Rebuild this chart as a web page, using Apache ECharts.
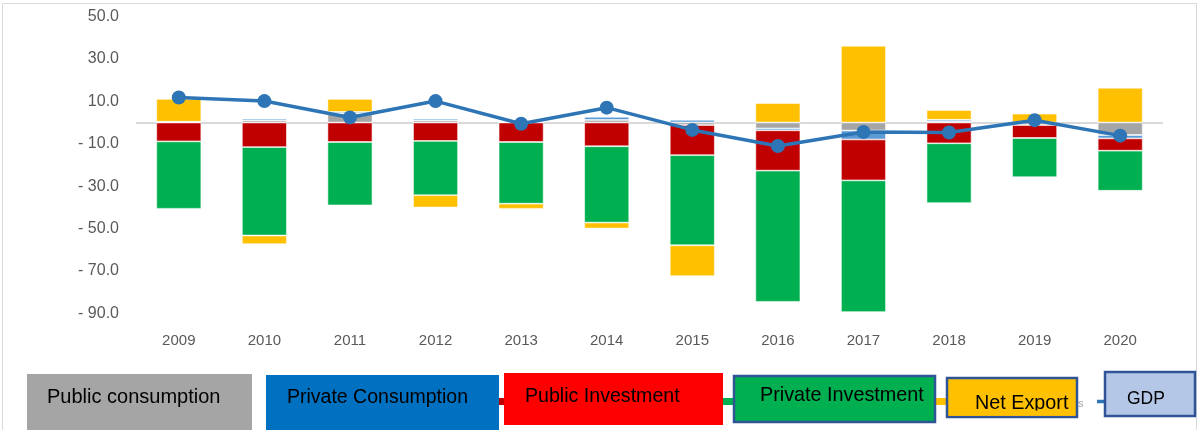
<!DOCTYPE html>
<html>
<head>
<meta charset="utf-8">
<script src="https://cdn.jsdelivr.net/npm/echarts@6/dist/echarts.min.js"></script>
<style>
html,body{margin:0;padding:0;background:#fff;}
#chart{width:1199px;height:430px;}
</style>
</head>
<body>
<div id="chart"></div>
<script>
const years = ['2009','2010','2011','2012','2013','2014','2015','2016','2017','2018','2019','2020'];
const publicConsumption  = [0, 1.0, 4.3, 1.0, 0, 1.2, -1.2, -2.8, -3.8, 0.4, -1.2, -5.9];
const privateConsumption = [0.4, 0.8, 0.7, 0.8, 0, 1.5, 1.3, -0.9, -4.2, 0.9, 0, -1.6];
const publicInvestment   = [-8.9, -11.6, -9.2, -8.7, -9.2, -11.2, -14.2, -19.0, -19.3, -9.8, -6.1, -5.8];
const privateInvestment  = [-31.8, -41.7, -29.9, -25.6, -29.1, -36.0, -42.5, -61.9, -62.1, -28.2, -18.5, -18.9];
const netExport          = [10.7, -4.1, 6.1, -5.8, -2.4, -2.8, -14.6, 9.2, 36.2, 4.6, 4.2, 16.4];
const gdp                = [11.8, 10.1, 2.4, 10.1, -0.6, 7.0, -3.5, -11.1, -4.5, -4.7, 1.1, -6.2];
const legendLabels = ['Public consumption','Private Consumption','Public Investment','Private Investment','Net Export','GDP'];

const chart = echarts.init(document.getElementById('chart'), null, {renderer:'canvas'});
const barBase = {type:'bar', stack:'total', barWidth:45,
  itemStyle:{borderColor:'rgba(255,255,255,0.7)', borderWidth:0.8}};
const FONT = 'Liberation Sans';

function box(x,y,w,h,fill,stroke,lw){
  return {type:'rect', shape:{x:x,y:y,width:w,height:h},
    style:{fill:fill, stroke:stroke||null, lineWidth:lw||0}, z:10};
}
function label(text,x,y,size){
  return {type:'text', x:x, y:y, style:{text:text, fill:'#000', font:size+'px "'+FONT+'"', textVerticalAlign:'middle'}, z:11};
}
function seg(x1,x2,y,color,w){
  return {type:'line', shape:{x1:x1,y1:y,x2:x2,y2:y}, style:{stroke:color, lineWidth:w}, z:9};
}

const graphics = [
  {type:'rect', shape:{x:2.5,y:3.5,width:1194,height:440}, style:{fill:null, stroke:'#D9D9D9', lineWidth:1}, z:0},
  seg(498,505,401.5,'#C00000',7),
  seg(722,735,401.5,'#00B050',7),
  seg(934,948,401.5,'#FFC000',7),
  seg(1097,1106,401.5,'#2E75B6',3.5),
  {type:'text', x:1078, y:404, style:{text:'s', fill:'#A6A6A6', font:'11px "'+FONT+'"', textVerticalAlign:'middle'}, z:9},
  box(27,374,225,56,'#A5A5A5'),
  label(legendLabels[0],47,397,20),
  box(266,375,233,56,'#0070C0'),
  label(legendLabels[1],287,398,19.5),
  box(504,373,219,52,'#FF0000'),
  label(legendLabels[2],525,397,19.6),
  box(734,376,201,46,'#00B050','#2F5597',2.5),
  label(legendLabels[3],760,396,19.8),
  box(947,378,130,39,'#FFC000','#2F5597',2.5),
  label(legendLabels[4],975,404,19.8),
  {type:'rect', shape:{x:949,y:410.5,width:126,height:5.3}, style:{fill:'#FFC000'}, z:12},
  box(1105,372,90,44,'#B4C7E7','#2F5597',2.5),
  label(legendLabels[5],1127,399,17.5)
];

const option = {
  backgroundColor:'#fff',
  animation:false,
  textStyle:{fontFamily:FONT},
  grid:{left:136, right:36, top:16.5, bottom:116.7, containLabel:false},
  legend:{show:false},
  xAxis:{type:'category', data:years, position:'bottom',
    axisLine:{show:false}, axisTick:{show:false},
    axisLabel:{color:'#595959', fontSize:15, margin:20, fontFamily:FONT}},
  yAxis:{type:'value', min:-90, max:50, interval:20,
    axisLine:{show:false}, axisTick:{show:false}, splitLine:{show:false},
    axisLabel:{color:'#595959', fontSize:16, margin:17, fontFamily:FONT,
      formatter:function(v){ return v<0 ? '- '+Math.abs(v).toFixed(1) : v.toFixed(1); }}},
  series:[
    Object.assign({}, barBase, {name:legendLabels[0], data:publicConsumption, itemStyle:Object.assign({}, barBase.itemStyle, {color:'#A5A5A5'}),
      markLine:{silent:true, symbol:'none', label:{show:false}, lineStyle:{color:'#D9D9D9', width:2, type:'solid'}, data:[{yAxis:0}], z:1}}),
    Object.assign({}, barBase, {name:legendLabels[1], data:privateConsumption, itemStyle:Object.assign({}, barBase.itemStyle, {color:'#5B9BD5'})}),
    Object.assign({}, barBase, {name:legendLabels[2], data:publicInvestment, itemStyle:Object.assign({}, barBase.itemStyle, {color:'#C00000'})}),
    Object.assign({}, barBase, {name:legendLabels[3], data:privateInvestment, itemStyle:Object.assign({}, barBase.itemStyle, {color:'#00B050'})}),
    Object.assign({}, barBase, {name:legendLabels[4], data:netExport, itemStyle:Object.assign({}, barBase.itemStyle, {color:'#FFC000'})}),
    {name:legendLabels[5], type:'line', data:gdp, symbol:'circle', symbolSize:14, z:5,
      lineStyle:{color:'#2E75B6', width:3.5}, itemStyle:{color:'#2E75B6'}}
  ],
  graphic:graphics
};
chart.setOption(option);
</script>
</body>
</html>
